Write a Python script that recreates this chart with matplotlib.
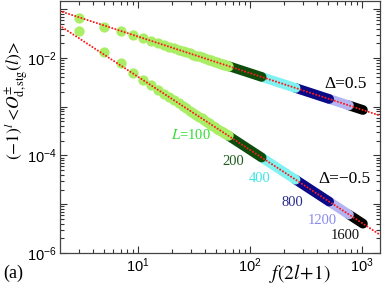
import matplotlib
matplotlib.use("Agg")
import matplotlib.pyplot as plt
from matplotlib.ticker import LogLocator, FuncFormatter, NullFormatter
import numpy as np

plt.rcParams['mathtext.fontset'] = 'custom'
plt.rcParams['mathtext.rm'] = 'Liberation Sans'
plt.rcParams['mathtext.it'] = 'Liberation Sans:italic'
plt.rcParams['font.family'] = ['Liberation Sans', 'DejaVu Sans']

# ---- data ----
# L = 100 : individual points f(2l+1)
x_L100 = [3, 5, 7, 9, 11, 13, 15, 17, 19, 21, 23, 25, 27, 29, 31, 33, 35, 37, 39,
          41, 43, 45, 47, 49, 51, 53, 55, 57, 59, 61, 63]
y_up_L100 = [0.066, 0.044, 0.0360, 0.0298, 0.0256, 0.0226, 0.0203, 0.01849, 0.01701,
             0.01578, 0.01474, 0.01384, 0.01307, 0.01238, 0.01178, 0.01124, 0.01076,
             0.01032, 0.00992, 0.00955, 0.00922, 0.00891, 0.00862, 0.00836, 0.00811,
             0.00788, 0.00766, 0.00746, 0.00727, 0.00709, 0.00692]
y_dn_L100 = [0.0358, 0.0130, 0.0078, 0.00501, 0.00360, 0.00278, 0.00224, 0.001857,
             0.001571, 0.001353, 0.001180, 0.001041, 0.000928, 0.000833, 0.000754,
             0.000687, 0.000629, 0.000578, 0.000534, 0.000496, 0.000462, 0.000431,
             0.000404, 0.000380, 0.000357, 0.000337, 0.000319, 0.000302, 0.000287,
             0.000273, 0.000260]

# larger L: visible dense bands (start, end)
x_L200 = [64, 127]
y_up_L200 = [0.00684, 0.00409]
y_dn_L200 = [2.54e-4, 9.09e-5]
x_L400 = [127, 255]
y_up_L400 = [0.00409, 0.002426]
y_dn_L400 = [9.09e-5, 3.20e-5]
x_L800 = [255, 509]
y_up_L800 = [0.002426, 0.001444]
y_dn_L800 = [3.20e-5, 1.133e-5]
x_L1200 = [509, 764]
y_up_L1200 = [0.001444, 0.001065]
y_dn_L1200 = [1.133e-5, 6.16e-6]
x_L1600 = [764, 1019]
y_up_L1600 = [0.001065, 0.000858]
y_dn_L1600 = [6.16e-6, 4.00e-6]

# power-law fits (end points)
fit_x = [2.0, 1450.0]
fit_up_y = [0.0920, 6.59e-4]
fit_dn_y = [0.0460, 2.36e-6]

L_labels = ['$L$=100', '200', '400', '800', '1200', '1600']
band_colors = ['#aaee66', '#0c4d0c', '#80f2f2', '#0a0a88', '#b4b4f2', '#000000']
text_colors = ['#33dd33', '#1d5e1d', '#40e6e6', '#2a2a8c', '#8a8af0', '#111111']

# ---- figure ----
fig = plt.figure(figsize=(3.82, 2.85), dpi=100)
ax = fig.add_axes([60/382, 32/285, 320/382, 252/285])
ax.set_xscale('log')
ax.set_yscale('log')

bands = [(x_L1600, y_up_L1600, y_dn_L1600, 5),
         (x_L1200, y_up_L1200, y_dn_L1200, 4),
         (x_L800, y_up_L800, y_dn_L800, 3),
         (x_L400, y_up_L400, y_dn_L400, 2),
         (x_L200, y_up_L200, y_dn_L200, 1)]
lw_band = 7.0
for xs, yu, yd, i in bands:
    for ys in (yu, yd):
        ax.plot(xs, ys, '-', color=band_colors[i], lw=lw_band,
                solid_capstyle='round', zorder=2 + (5 - i) * 0.1)

for ys in (y_up_L100, y_dn_L100):
    ax.plot(x_L100, ys, 'o', color=band_colors[0], ms=7.4, mec='none', zorder=3)

for ys in (fit_up_y, fit_dn_y):
    ax.plot(fit_x, ys, color='#ff1a1a', lw=1.5, linestyle=(0, (0.01, 1.55)),
            dash_capstyle='round', zorder=5)

ax.set_xlim(2.01, 1448)
ax.set_ylim(1e-6, 0.1476)

# ticks
ax.xaxis.set_major_locator(LogLocator(base=10, numticks=10))
ax.xaxis.set_minor_locator(LogLocator(base=10, subs=np.arange(2, 10), numticks=20))
ax.yaxis.set_major_locator(LogLocator(base=10, numticks=12))
ax.yaxis.set_minor_locator(LogLocator(base=10, subs=np.arange(2, 10), numticks=20))
ax.xaxis.set_minor_formatter(NullFormatter())
ax.yaxis.set_minor_formatter(NullFormatter())

def xfmt(v, pos):
    e = int(round(np.log10(v)))
    return r'$10^{%d}$' % e

def yfmt(v, pos):
    e = int(round(np.log10(v)))
    if e % 2 == 0:
        return r'$10^{%d}$' % e
    return ''

ax.xaxis.set_major_formatter(FuncFormatter(xfmt))
ax.yaxis.set_major_formatter(FuncFormatter(yfmt))
ax.tick_params(which='both', direction='in', top=True, right=True,
               labelsize=10.5, pad=2.5, color='#333333', width=0.8)
ax.tick_params(which='major', length=5)
ax.tick_params(which='minor', length=2.8)
for s in ax.spines.values():
    s.set_linewidth(0.9)
    s.set_color('#444444')

ax.set_xlabel(r'$f(2l\!+\!1)$', fontsize=14, math_fontfamily='stix')
ax.xaxis.set_label_coords(0.75, -0.08)
ax.xaxis.label.set_va('center')
ax.set_ylabel(r'$(-1)^{l}\,\!<\!O^{\pm}_{\mathrm{d,stg}}(l)\!>$', fontsize=12.5,
              math_fontfamily='stix')
ax.yaxis.set_label_coords(-0.138, 0.607)
ax.yaxis.label.set_va('center')

# annotations
serif = ['Liberation Serif', 'DejaVu Serif']
lab_pos = [(29.5, 2.6e-4), (70.5, 7.4e-5), (123, 3.3e-5), (237, 1.11e-5),
           (440, 4.75e-6), (705, 2.34e-6)]
for i, (px, py) in enumerate(lab_pos):
    ax.text(px, py, L_labels[i], color=text_colors[i], fontsize=10.5,
            family=serif, math_fontfamily='stix', ha='center', va='center')
ax.text(720, 2.93e-3, 'Δ=0.5', fontsize=12.5, family=serif, ha='center', va='center')
ax.text(690, 3.3e-5, 'Δ=\u22120.5', fontsize=12.5, family=serif, ha='center', va='center')

fig.text(13/382, 1 - 273/285, '(a)', fontsize=13, family=serif, ha='center', va='center')

fig.savefig('out.png', dpi=100)
